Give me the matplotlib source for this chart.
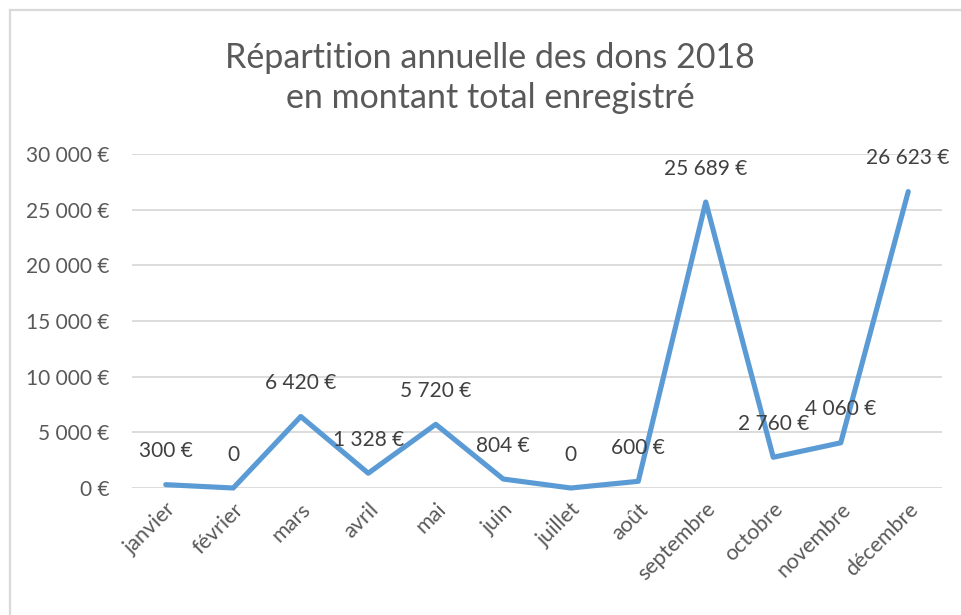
import matplotlib
matplotlib.use("Agg")
import matplotlib.pyplot as plt
from matplotlib.ticker import FuncFormatter

plt.rcParams['font.family'] = ['Lato', 'DejaVu Sans']

months = ['janvier', 'février', 'mars', 'avril', 'mai', 'juin', 'juillet',
          'août', 'septembre', 'octobre', 'novembre', 'décembre']
dons = [300, 0, 6420, 1328, 5720, 804, 0, 600, 25689, 2760, 4060, 26623]
yticks = [0, 5000, 10000, 15000, 20000, 25000, 30000]

W, H = 962, 615
TICK_COL = '#595959'
LABEL_COL = '#404040'


def euro(v, pos=None):
    s = '{:,}'.format(int(v)).replace(',', ' ')
    return s + ' €'


fig = plt.figure(figsize=(W / 100, H / 100), dpi=100)
fig.patch.set_facecolor('white')

# chart frame (only left and top edges are visible)
fig.add_artist(plt.Line2D([9.5 / W, 9.5 / W], [0, 1 - 10 / H], color='#d9d9d9', lw=1.6))
fig.add_artist(plt.Line2D([9.5 / W, 1], [1 - 10 / H, 1 - 10 / H], color='#d9d9d9', lw=1.6))
fig.text(0 / W, 1 + 9 / H, 'décembre.', fontsize=15, color='black', va='bottom', ha='left')

ax = fig.add_axes([132 / W, 127 / H, 810 / W, 334 / H])
x = list(range(len(months)))
ax.plot(x, dons, color='#5b9bd5', lw=3.7, solid_joinstyle='round',
        solid_capstyle='round', zorder=3, clip_on=False)

ax.set_xlim(-0.5, len(months) - 0.5)
ax.set_ylim(0, 30000)
ax.set_yticks(yticks)
ax.yaxis.set_major_formatter(FuncFormatter(euro))
ax.set_xticks(x)
ax.set_xticklabels(months, rotation=45, ha='right', rotation_mode='anchor')

ax.grid(axis='y', color='#d9d9d9', lw=1.3)
ax.set_axisbelow(True)
for sp in ax.spines.values():
    sp.set_visible(False)
ax.tick_params(axis='both', length=0, labelsize=15, colors=TICK_COL)
ax.tick_params(axis='x', labelsize=15.5)
ax.tick_params(axis='y', pad=16)
ax.tick_params(axis='x', pad=8)

for xi, v in zip(x, dons):
    txt = '0' if v == 0 else euro(v)
    ax.annotate(txt, (xi, v), xytext=(0, 24), textcoords='offset points',
                ha='center', va='center', fontsize=15, color=LABEL_COL)

fig.text(490 / W, 1 - 78 / H, 'Répartition annuelle des dons 2018\nen montant total enregistré',
         ha='center', va='center', fontsize=24.5, color=TICK_COL, linespacing=1.3)

fig.savefig('out.png', dpi=100)
